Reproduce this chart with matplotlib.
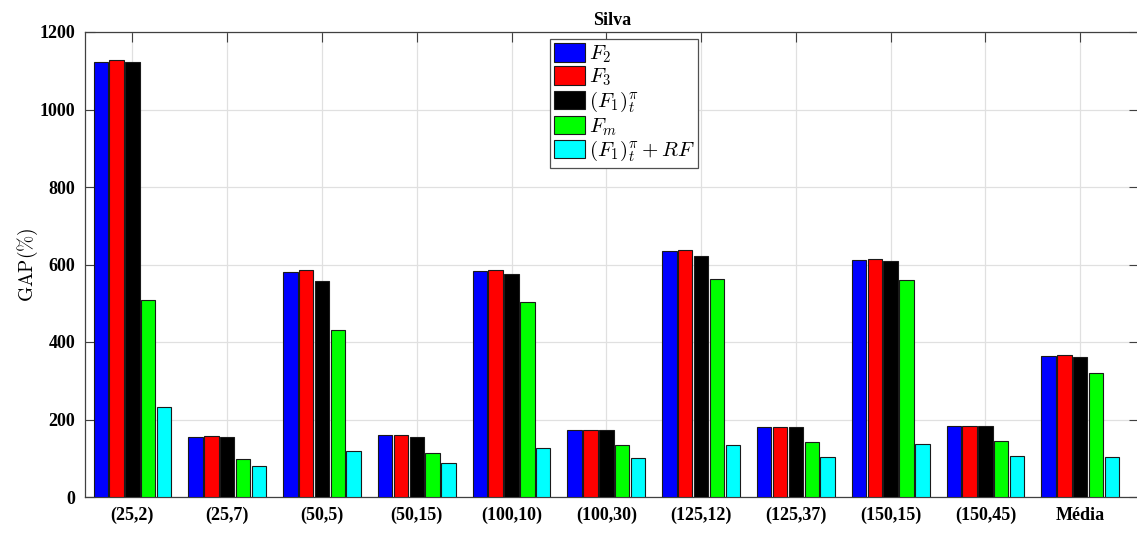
import numpy as np
import matplotlib
matplotlib.use('Agg')
import matplotlib.pyplot as plt

# instancias (n, p) e media
grupos = ['(25,2)', '(25,7)', '(50,5)', '(50,15)', '(100,10)', '(100,30)',
          '(125,12)', '(125,37)', '(150,15)', '(150,45)', 'Média']

F2 = [1122, 155, 581, 160, 583, 174, 634, 181, 612, 182, 365]
F3 = [1128, 157, 587, 160, 586, 174, 637, 181, 614, 182, 366]
F1t = [1122, 155, 557, 156, 576, 174, 623, 181, 610, 182, 362]
Fm = [508, 98, 430, 113, 503, 135, 563, 143, 559, 145, 320]
F1t_RF = [231, 79, 120, 87, 126, 101, 135, 103, 138, 106, 102]

series = [F2, F3, F1t, Fm, F1t_RF]
nomes = [r'$F_2$', r'$F_3$', r'$(F_1)_t^{\pi}$', r'$F_m$', r'$(F_1)_t^{\pi} + RF$']
cores = ['#0000ff', '#ff0000', '#000000', '#00ff00', '#00ffff']

plt.rcParams['mathtext.fontset'] = 'cm'
plt.rcParams['font.family'] = ['Liberation Serif', 'DejaVu Serif']

fig = plt.figure(figsize=(11.37, 5.54), dpi=100)
ax = fig.add_axes([85/1137, 57/554, 1054/1137, 465/554])

x = np.arange(1, len(grupos) + 1)
passo = 0.167
for i, (vals, nome, cor) in enumerate(zip(series, nomes, cores)):
    ax.bar(x + (i - 2) * passo, vals, width=0.152, color=cor, edgecolor='#1a1a1a',
           linewidth=0.8, label=nome, zorder=3)

ax.set_xlim(0.5, 11.62)
ax.set_ylim(0, 1200)
ax.set_xticks(x)
ax.set_xticklabels(grupos, fontweight='bold', fontsize=13)
ax.set_yticks(range(0, 1201, 200))
ax.set_yticklabels([str(v) for v in range(0, 1201, 200)], fontweight='bold', fontsize=13)
ax.tick_params(direction='in', length=7, width=0.8, top=True, right=True,
               color='#404040', pad=7)
ax.grid(True, color='#e0e0e0', linewidth=0.9, zorder=0)
ax.set_axisbelow(True)
for s in ax.spines.values():
    s.set_color('#404040')
    s.set_linewidth(0.9)

ax.set_title('Silva', fontweight='bold', fontsize=13, pad=5)
ax.set_ylabel(r'$\mathrm{GAP}(\%)$', fontsize=14, labelpad=0)

leg = ax.legend(loc='upper left', bbox_to_anchor=(550/1137, 1 - 39/554),
                bbox_transform=fig.transFigure, borderaxespad=0, fontsize=15,
                handlelength=1.5, handleheight=1.0, labelspacing=0.06,
                handletextpad=0.15, borderpad=0.2, fancybox=False, framealpha=1)
leg.get_frame().set_edgecolor('#505050')
leg.get_frame().set_linewidth(0.9)

fig.savefig('out.png', dpi=100)
